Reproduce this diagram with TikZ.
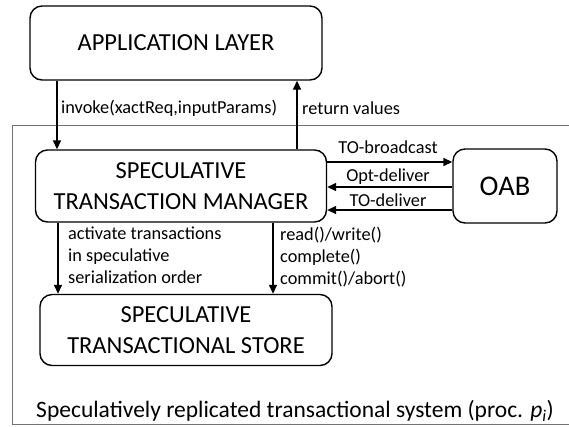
\documentclass[tikz,border=0pt]{standalone}
\usepackage{fontspec}
\setmainfont{Carlito}
\usetikzlibrary{arrows.meta}
\begin{document}
\begin{tikzpicture}[x=1pt,y=-1pt,
  box/.style={draw=black, line width=1.4pt, rounded corners=12pt, align=center, inner sep=0pt},
  boxfont/.style={font=\fontsize{24.5}{30.5}\selectfont},
  arr/.style={line width=1.4pt, -{Triangle[length=9pt,width=8pt]}},
  lbl/.style={font=\fontsize{18.3}{21.8}\selectfont, inner sep=0pt, align=left},
  ]
\useasboundingbox (0,0) rectangle (569,426);
% outer system frame (right side falls beyond the picture)
\draw[draw=black!55, line width=0.9pt] (569,125) -- (12,125) -- (12,424) -- (569,424);
\node[box, boxfont, minimum width=292pt, minimum height=74pt] (app) at (176,43) {APPLICATION LAYER};
\node[box, boxfont, minimum width=291pt, minimum height=72pt] (stm) at (181,186) {SPECULATIVE\\TRANSACTION MANAGER};
\node[box, font=\fontsize{28.5}{32}\selectfont, minimum width=104pt, minimum height=74pt] (oab) at (505,186) {OAB};
\node[box, boxfont, minimum width=292pt, minimum height=71pt] (sts) at (186,330) {SPECULATIVE\\TRANSACTIONAL STORE};
% vertical connectors
\draw[arr] (app.south -| 57,0) -- (stm.north -| 57,0);
\draw[arr] (stm.north -| 297,0) -- (app.south -| 297,0);
\draw[arr] (stm.south -| 58,0) -- (sts.north -| 58,0);
\draw[arr] (stm.south -| 273,0) -- (sts.north -| 273,0);
% horizontal connectors
\draw[arr] (stm.east |- 0,162) -- (oab.west |- 0,162);
\draw[arr] (oab.west |- 0,187) -- (stm.east |- 0,187);
\draw[arr] (oab.west |- 0,210) -- (stm.east |- 0,210);
% labels
\node[lbl, anchor=west] (linv) at (61,108) {invoke(xactReq,inputParams)};
\node[lbl, anchor=west] (lret) at (302,108) {return values};
\node[lbl] (ltob) at (388,147) {TO-broadcast};
\node[lbl] (lopt) at (388,177) {Opt-deliver};
\node[lbl] (ltod) at (388,200) {TO-deliver};
\node[lbl, anchor=north west] (lact) at (68,227) {activate transactions\\in speculative\\serialization order};
\node[lbl, anchor=north west] (lrw) at (280,227) {read()/write()\\complete()\\commit()/abort()};
\node[font=\fontsize{23.5}{26}\selectfont, inner sep=0pt] (lsys) at (295,411) {Speculatively replicated transactional system (proc. \textit{p}\textsubscript{\textit{i}})};
\end{tikzpicture}
\end{document}
